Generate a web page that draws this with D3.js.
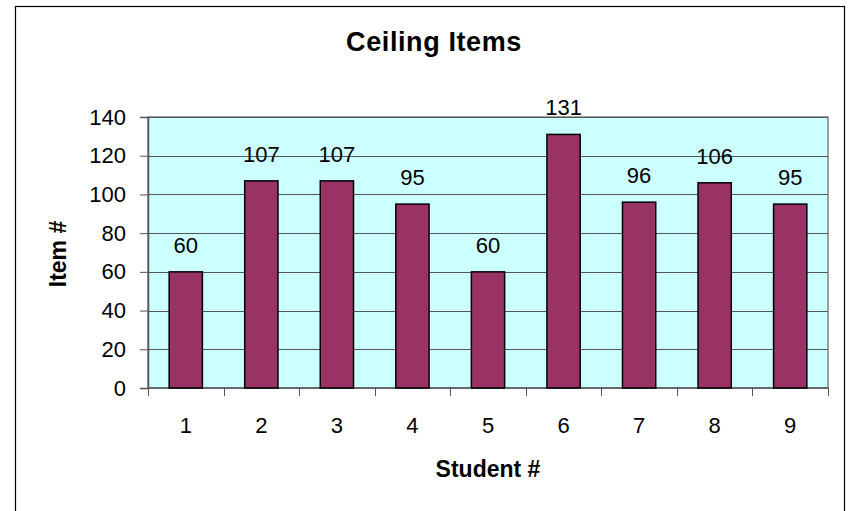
<!DOCTYPE html>
<html>
<head>
<meta charset="utf-8">
<script src="https://cdn.jsdelivr.net/npm/d3@7"></script>
<style>
  html, body { margin: 0; padding: 0; background: #fff; }
  svg { display: block; font-family: Arial, "Liberation Sans", sans-serif; }
</style>
</head>
<body>
<svg id="chart" width="851" height="511"></svg>
<script>
// Ceiling item reached by each student
const students = ["1", "2", "3", "4", "5", "6", "7", "8", "9"];
const items = [60, 107, 107, 95, 60, 131, 96, 106, 95];
const yTicks = [0, 20, 40, 60, 80, 100, 120, 140];

const svg = d3.select("#chart");
const FONT = "Arial, 'Liberation Sans', sans-serif";

// outer chart frame (bottom edge runs off the page)
svg.append("rect")
  .attr("x", 15.5).attr("y", 6.5)
  .attr("width", 829).attr("height", 520)
  .attr("fill", "#fff").attr("stroke", "#000").attr("stroke-width", 1.2);

const plot = { left: 148, top: 117, right: 828, bottom: 388 };

const x = d3.scaleBand()
  .domain(students)
  .range([plot.left, plot.right])
  .paddingInner(0.56).paddingOuter(0.28);

const xCat = d3.scaleBand().domain(students).range([plot.left, plot.right]);

const y = d3.scaleLinear().domain([0, 140]).range([plot.bottom, plot.top]);

// plot background
svg.append("rect")
  .attr("x", plot.left).attr("y", plot.top)
  .attr("width", plot.right - plot.left).attr("height", plot.bottom - plot.top)
  .attr("fill", "#ccffff").attr("stroke", "#808080").attr("stroke-width", 1.5);

// horizontal gridlines
svg.append("g")
  .selectAll("line")
  .data(yTicks.filter(d => d > 0))
  .join("line")
  .attr("x1", plot.left).attr("x2", plot.right)
  .attr("y1", d => Math.round(y(d)) + 0.5).attr("y2", d => Math.round(y(d)) + 0.5)
  .attr("stroke", "#555").attr("stroke-width", 1);

// y axis
const yAxis = svg.append("g")
  .attr("transform", `translate(${plot.left},0)`)
  .call(d3.axisLeft(y).tickValues(yTicks).tickSize(8).tickPadding(14).tickFormat(d3.format("d")));
yAxis.select(".domain").attr("stroke", "#555").attr("stroke-width", 1.5);
yAxis.selectAll(".tick line").attr("stroke", "#555");
yAxis.selectAll(".tick text")
  .attr("font-size", 22).attr("fill", "#000")
  .attr("font-family", FONT);

// x axis: ticks at category boundaries
const xAxisG = svg.append("g").attr("transform", `translate(0,${plot.bottom})`);
xAxisG.append("line")
  .attr("x1", plot.left).attr("x2", plot.right)
  .attr("y1", 0).attr("y2", 0)
  .attr("stroke", "#555").attr("stroke-width", 1.5);
const bounds = students.map(s => xCat(s)).concat([plot.right]);
xAxisG.selectAll("line.tk")
  .data(bounds)
  .join("line")
  .attr("class", "tk")
  .attr("x1", d => Math.round(d) + 0.5).attr("x2", d => Math.round(d) + 0.5)
  .attr("y1", 0).attr("y2", 8)
  .attr("stroke", "#555");
xAxisG.selectAll("text")
  .data(students)
  .join("text")
  .attr("x", d => xCat(d) + xCat.bandwidth() / 2)
  .attr("y", 45)
  .attr("text-anchor", "middle")
  .attr("font-size", 22)
  .text(d => d);

// bars
svg.append("g")
  .selectAll("rect")
  .data(students.map((s, i) => ({ s, v: items[i] })))
  .join("rect")
  .attr("x", d => x(d.s))
  .attr("y", d => y(d.v))
  .attr("width", x.bandwidth())
  .attr("height", d => y(0) - y(d.v))
  .attr("fill", "#993366")
  .attr("stroke", "#000").attr("stroke-width", 1.5);

// value labels
svg.append("g")
  .selectAll("text")
  .data(students.map((s, i) => ({ s, v: items[i] })))
  .join("text")
  .attr("x", d => x(d.s) + x.bandwidth() / 2)
  .attr("y", d => y(d.v) - 19)
  .attr("text-anchor", "middle")
  .attr("font-size", 22)
  .text(d => d.v);

// title
svg.append("text")
  .attr("x", 434).attr("y", 51)
  .attr("text-anchor", "middle")
  .attr("font-size", 27).attr("font-weight", "bold")
  .attr("letter-spacing", 0.6)
  .text("Ceiling Items");

// axis titles
svg.append("text")
  .attr("x", 488).attr("y", 477)
  .attr("text-anchor", "middle")
  .attr("font-size", 23).attr("font-weight", "bold")
  .text("Student #");

svg.append("text")
  .attr("transform", `translate(66,254) rotate(-90)`)
  .attr("text-anchor", "middle")
  .attr("font-size", 23).attr("font-weight", "bold")
  .text("Item #");
</script>
</body>
</html>
